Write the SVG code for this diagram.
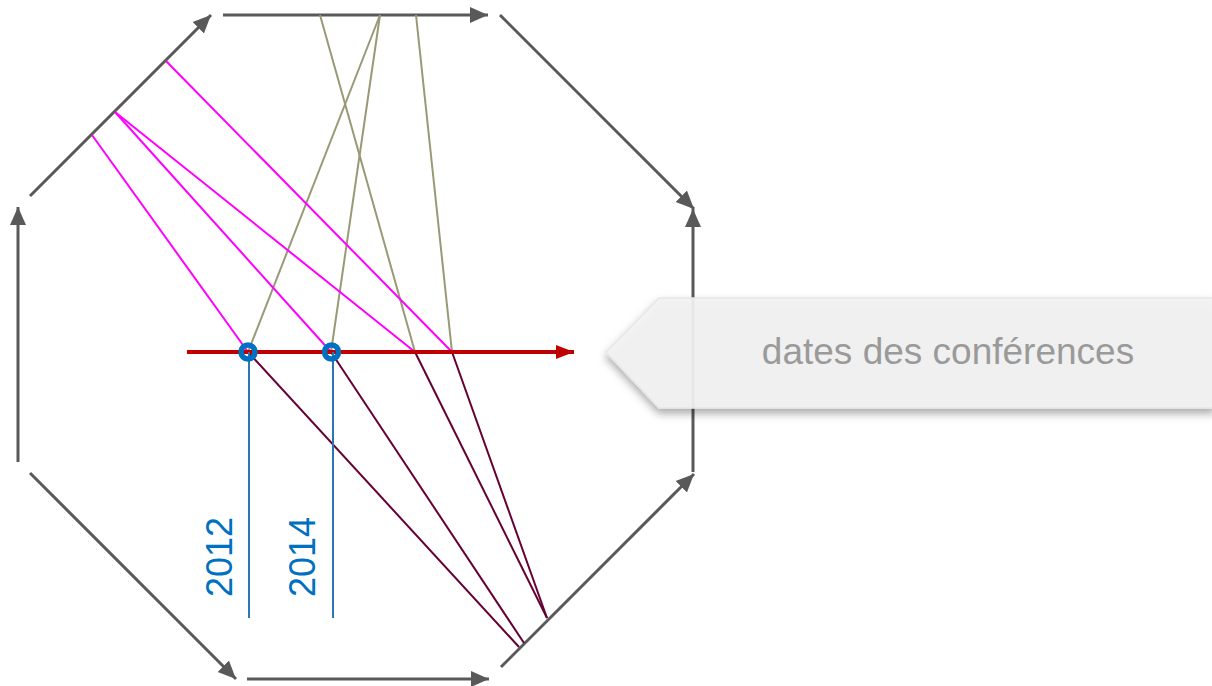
<svg xmlns="http://www.w3.org/2000/svg" width="1212" height="686" viewBox="0 0 1212 686">
<style>
.edge{stroke:#595959;stroke-width:3;fill:none;marker-end:url(#ah)}
.pink{stroke:#FF00FF;stroke-width:2;fill:none}
.olive{stroke:#999977;stroke-width:2;fill:none}
.maroon{stroke:#660033;stroke-width:2;fill:none}
.blue{stroke:#2E75B6;stroke-width:2;fill:none}
.year{font-family:"Liberation Sans",Arial,sans-serif;font-size:36px;fill:#0070C0}
.label{font-family:"Liberation Sans",Arial,sans-serif;font-size:37px;fill:#9A9A9A}
</style>
<defs>
<marker id="ah" markerUnits="userSpaceOnUse" markerWidth="20" markerHeight="18" refX="18" refY="9" orient="auto">
<path d="M0,1 L18,9 L0,17 z" fill="#595959"/>
</marker>
<marker id="ahr" markerUnits="userSpaceOnUse" markerWidth="20" markerHeight="18" refX="18" refY="9" orient="auto">
<path d="M0,2 L18,9 L0,16 z" fill="#C00000"/>
</marker>
<filter id="sh" x="-10%" y="-30%" width="120%" height="160%">
<feDropShadow dx="0" dy="5" stdDeviation="4" flood-color="#000" flood-opacity="0.35"/>
</filter>
</defs>
<rect width="1212" height="686" fill="#fff"/>
<g id="octagon">
<line class="edge" x1="18" y1="462" x2="18" y2="207"/>
<line class="edge" x1="30" y1="196" x2="211" y2="15"/>
<line class="edge" x1="223" y1="15" x2="488" y2="15"/>
<line class="edge" x1="500" y1="15" x2="694" y2="209"/>
<line class="edge" x1="693" y1="472" x2="693" y2="209"/>
<line class="edge" x1="501" y1="667" x2="694" y2="474"/>
<line class="edge" x1="247" y1="679" x2="489" y2="679"/>
<line class="edge" x1="30" y1="473" x2="236" y2="679"/>
</g>
<g id="connectors">
<line class="olive" x1="320" y1="15" x2="415" y2="352"/>
<line class="olive" x1="380" y1="15" x2="248" y2="352"/>
<line class="olive" x1="380" y1="15" x2="331" y2="352"/>
<line class="olive" x1="416" y1="15" x2="452" y2="352"/>
<line class="pink" x1="166" y1="61" x2="452" y2="352"/>
<line class="pink" x1="115" y1="112" x2="415" y2="352"/>
<line class="pink" x1="115" y1="112" x2="331" y2="352"/>
<line class="pink" x1="92" y1="135" x2="248" y2="352"/>
<line class="maroon" x1="248" y1="352" x2="519" y2="647"/>
<line class="maroon" x1="331" y1="352" x2="524" y2="643"/>
<line class="maroon" x1="415" y1="352" x2="547" y2="618"/>
<line class="maroon" x1="452" y1="352" x2="547" y2="618"/>
</g>
<g id="timeline">
<line x1="187" y1="352" x2="574" y2="352" stroke="#C00000" stroke-width="4" marker-end="url(#ahr)"/>
<line class="blue" x1="249" y1="352" x2="249" y2="618"/>
<line class="blue" x1="333" y1="352" x2="333" y2="618"/>
<circle cx="248" cy="352" r="7" fill="none" stroke="#0070C0" stroke-width="5.5"/>
<circle cx="331.5" cy="352" r="7" fill="none" stroke="#0070C0" stroke-width="5.5"/>
</g>
<g id="year-2012"><text class="year" transform="translate(232,597) rotate(-90)">2012</text></g>
<g id="year-2014"><text class="year" transform="translate(315,597) rotate(-90)">2014</text></g>
<g id="callout">
<path d="M606,352 L659,298 L1214,298 L1214,408 L659,408 Z" fill="#F2F2F2" fill-opacity="0.92" stroke="#E6E6E6" stroke-width="1.5" filter="url(#sh)"/>
<text class="label" x="948" y="364" text-anchor="middle">dates des conférences</text>
</g>
</svg>
